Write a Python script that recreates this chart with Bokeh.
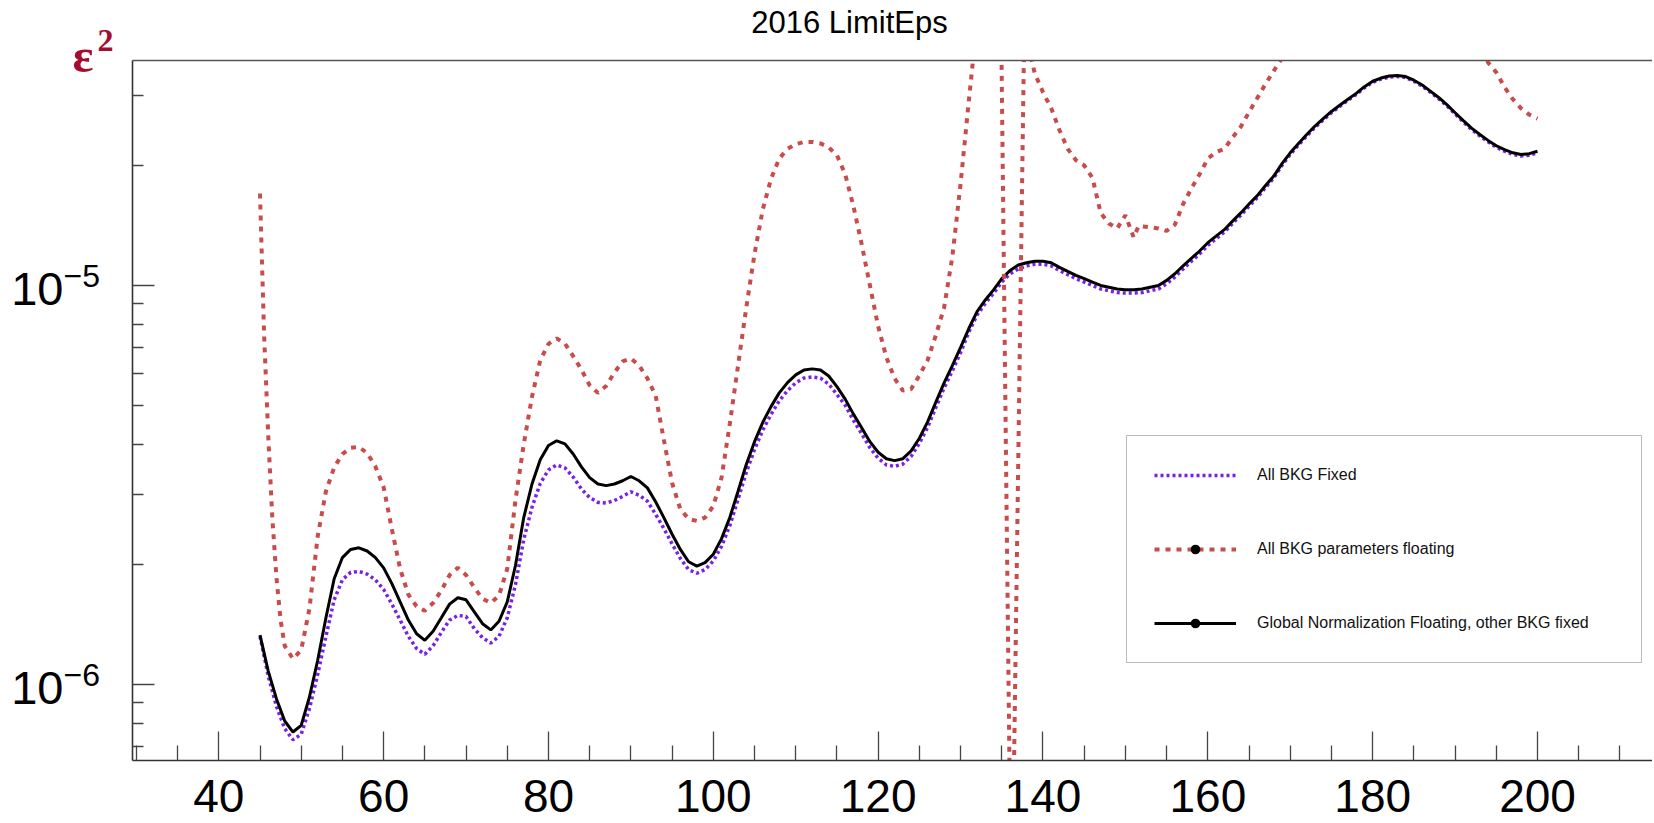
from bokeh.plotting import figure
from bokeh.models import (Label, Legend, LegendItem, FixedTicker, LinearAxis, LogAxis,
                          ColumnDataSource, Range1d)
from bokeh.embed import file_html
from bokeh.resources import INLINE

# ---------------- data ----------------
mass = list(range(45, 201))

global_norm = [
    1.33e-6, 1.08e-6, 9.2e-7, 8.1e-7, 7.6e-7, 7.9e-7, 9.3e-7, 1.15e-6, 1.47e-6, 1.84e-6,   # 45-54
    2.08e-6, 2.18e-6, 2.20e-6, 2.16e-6, 2.08e-6, 1.96e-6, 1.79e-6, 1.61e-6, 1.45e-6, 1.34e-6,  # 55-64
    1.29e-6, 1.36e-6, 1.47e-6, 1.59e-6, 1.65e-6, 1.63e-6, 1.52e-6, 1.42e-6, 1.37e-6, 1.44e-6,  # 65-74
    1.61e-6, 1.99e-6, 2.62e-6, 3.18e-6, 3.66e-6, 3.97e-6, 4.08e-6, 4.01e-6, 3.78e-6, 3.51e-6,  # 75-84
    3.30e-6, 3.18e-6, 3.15e-6, 3.18e-6, 3.24e-6, 3.32e-6, 3.24e-6, 3.11e-6, 2.87e-6, 2.62e-6,  # 85-94
    2.38e-6, 2.18e-6, 2.03e-6, 1.98e-6, 2.02e-6, 2.12e-6, 2.32e-6, 2.62e-6, 3.05e-6, 3.56e-6,  # 95-104
    4.06e-6, 4.54e-6, 4.97e-6, 5.38e-6, 5.71e-6, 5.97e-6, 6.14e-6, 6.18e-6, 6.14e-6, 5.93e-6,  # 105-114
    5.58e-6, 5.19e-6, 4.76e-6, 4.40e-6, 4.06e-6, 3.82e-6, 3.68e-6, 3.64e-6, 3.68e-6, 3.85e-6,  # 115-124
    4.14e-6, 4.55e-6, 5.10e-6, 5.70e-6, 6.30e-6, 7.00e-6, 7.80e-6, 8.60e-6, 9.20e-6, 9.75e-6,  # 125-134
    1.04e-5, 1.09e-5, 1.125e-5, 1.14e-5, 1.15e-5, 1.15e-5, 1.14e-5, 1.11e-5, 1.085e-5, 1.06e-5,  # 135-144
    1.04e-5, 1.02e-5, 1.00e-5, 9.9e-6, 9.8e-6, 9.76e-6, 9.76e-6, 9.8e-6, 9.9e-6, 1.00e-5,  # 145-154
    1.03e-5, 1.07e-5, 1.12e-5, 1.17e-5, 1.22e-5, 1.28e-5, 1.33e-5, 1.38e-5, 1.45e-5, 1.52e-5,  # 155-164
    1.60e-5, 1.68e-5, 1.78e-5, 1.88e-5, 2.02e-5, 2.15e-5, 2.27e-5, 2.39e-5, 2.51e-5, 2.62e-5,  # 165-174
    2.73e-5, 2.83e-5, 2.93e-5, 3.03e-5, 3.15e-5, 3.25e-5, 3.31e-5, 3.35e-5, 3.36e-5, 3.34e-5,  # 175-184
    3.27e-5, 3.18e-5, 3.07e-5, 2.96e-5, 2.84e-5, 2.71e-5, 2.59e-5, 2.48e-5, 2.39e-5, 2.31e-5,  # 185-194
    2.24e-5, 2.19e-5, 2.15e-5, 2.13e-5, 2.14e-5, 2.17e-5,                                        # 195-200
]

all_fixed = [
    1.32e-6, 1.05e-6, 8.8e-7, 7.75e-7, 7.27e-7, 7.5e-7, 8.7e-7, 1.06e-6, 1.32e-6, 1.63e-6,   # 45-54
    1.83e-6, 1.91e-6, 1.92e-6, 1.89e-6, 1.83e-6, 1.73e-6, 1.59e-6, 1.45e-6, 1.32e-6, 1.23e-6,  # 55-64
    1.19e-6, 1.25e-6, 1.35e-6, 1.45e-6, 1.49e-6, 1.48e-6, 1.38e-6, 1.31e-6, 1.27e-6, 1.32e-6,  # 65-74
    1.47e-6, 1.78e-6, 2.31e-6, 2.78e-6, 3.19e-6, 3.45e-6, 3.55e-6, 3.49e-6, 3.31e-6, 3.09e-6,  # 75-84
    2.94e-6, 2.86e-6, 2.85e-6, 2.89e-6, 2.96e-6, 3.04e-6, 2.98e-6, 2.88e-6, 2.67e-6, 2.46e-6,  # 85-94
    2.25e-6, 2.07e-6, 1.94e-6, 1.90e-6, 1.94e-6, 2.04e-6, 2.22e-6, 2.50e-6, 2.91e-6, 3.40e-6,  # 95-104
    3.88e-6, 4.34e-6, 4.75e-6, 5.14e-6, 5.45e-6, 5.70e-6, 5.86e-6, 5.90e-6, 5.86e-6, 5.66e-6,  # 105-114
    5.33e-6, 5.01e-6, 4.59e-6, 4.25e-6, 3.92e-6, 3.69e-6, 3.55e-6, 3.52e-6, 3.57e-6, 3.73e-6,  # 115-124
    4.02e-6, 4.41e-6, 4.95e-6, 5.53e-6, 6.11e-6, 6.79e-6, 7.64e-6, 8.43e-6, 9.02e-6, 9.56e-6,  # 125-134
    1.02e-5, 1.07e-5, 1.10e-5, 1.12e-5, 1.13e-5, 1.13e-5, 1.12e-5, 1.09e-5, 1.065e-5, 1.04e-5,  # 135-144
    1.02e-5, 1.00e-5, 9.8e-6, 9.7e-6, 9.6e-6, 9.57e-6, 9.57e-6, 9.6e-6, 9.7e-6, 9.8e-6,  # 145-154
    1.01e-5, 1.05e-5, 1.10e-5, 1.15e-5, 1.20e-5, 1.26e-5, 1.31e-5, 1.36e-5, 1.43e-5, 1.50e-5,  # 155-164
    1.58e-5, 1.66e-5, 1.76e-5, 1.86e-5, 2.00e-5, 2.13e-5, 2.25e-5, 2.37e-5, 2.49e-5, 2.60e-5,  # 165-174
    2.71e-5, 2.81e-5, 2.91e-5, 3.01e-5, 3.13e-5, 3.23e-5, 3.29e-5, 3.33e-5, 3.34e-5, 3.32e-5,  # 175-184
    3.25e-5, 3.16e-5, 3.05e-5, 2.94e-5, 2.82e-5, 2.69e-5, 2.57e-5, 2.46e-5, 2.37e-5, 2.29e-5,  # 185-194
    2.22e-5, 2.17e-5, 2.13e-5, 2.11e-5, 2.12e-5, 2.15e-5,                                        # 195-200
]

float_mass = [
    45, 45.5, 46, 46.5, 47, 47.5, 48, 49, 50, 51, 52, 53, 54, 55, 56, 57, 58, 59, 60,
    61, 62, 63, 64, 65, 66, 67, 68, 69, 70, 71, 72, 73, 74, 75, 76, 77, 78, 79, 80,
    81, 82, 83, 84, 85, 86, 87, 88, 89, 90, 91, 92, 93, 94, 95, 96, 97, 98, 99, 100,
    101, 102, 103, 104, 105, 106, 107, 108, 109, 110, 111, 112, 113, 114, 115, 116,
    117, 118, 119, 120, 121, 122, 123, 124, 125, 126, 127, 128, 129, 130, 131, 132,
    133, 134, 134.9, 136.0, 136.4, 137.7, 138.2, 139, 140, 141, 142, 143, 144, 145, 146, 147,
    148, 149, 150, 151, 151.6, 153, 154, 155, 156, 157, 158, 159, 160, 161, 162, 163,
    164, 165, 166, 167, 168, 169, 170, 172, 175, 180, 185, 190, 193, 194, 195, 196,
    197, 198, 199, 200,
]
all_floating = [
    1.70e-5, 7.5e-6, 4.2e-6, 2.6e-6, 1.85e-6, 1.45e-6, 1.25e-6, 1.16e-6, 1.22e-6, 1.55e-6,
    2.35e-6, 3.05e-6, 3.50e-6, 3.78e-6, 3.92e-6, 3.94e-6, 3.80e-6, 3.52e-6, 3.12e-6,
    2.45e-6, 1.95e-6, 1.68e-6, 1.57e-6, 1.53e-6, 1.60e-6, 1.72e-6, 1.88e-6, 1.96e-6, 1.88e-6,
    1.75e-6, 1.64e-6, 1.60e-6, 1.67e-6, 1.95e-6, 2.90e-6, 4.00e-6, 5.26e-6, 6.49e-6, 7.14e-6,
    7.37e-6, 7.15e-6, 6.65e-6, 6.15e-6, 5.62e-6, 5.38e-6, 5.60e-6, 6.05e-6, 6.45e-6, 6.56e-6,
    6.30e-6, 5.85e-6, 5.30e-6, 4.10e-6, 3.20e-6, 2.75e-6, 2.60e-6, 2.57e-6, 2.62e-6, 2.80e-6,
    3.30e-6, 4.50e-6, 6.30e-6, 8.80e-6, 1.20e-5, 1.55e-5, 1.85e-5, 2.08e-5, 2.20e-5, 2.26e-5,
    2.29e-5, 2.29e-5, 2.27e-5, 2.22e-5, 2.12e-5, 1.90e-5,
    1.58e-5, 1.27e-5, 1.00e-5, 7.90e-6, 6.60e-6, 5.85e-6, 5.45e-6, 5.50e-6, 5.95e-6, 6.50e-6,
    7.50e-6, 8.80e-6, 1.18e-5, 1.80e-5, 2.90e-5, 4.60e-5,
    4.80e-5, 4.90e-5, 4.95e-5, 4.7e-7, 4.7e-7, 4.0e-5, 4.0e-5, 3.40e-5, 3.05e-5, 2.78e-5,
    2.45e-5, 2.20e-5, 2.06e-5, 2.00e-5, 1.86e-5, 1.52e-5,
    1.43e-5, 1.39e-5, 1.50e-5, 1.32e-5, 1.41e-5, 1.40e-5, 1.39e-5, 1.37e-5, 1.42e-5, 1.60e-5,
    1.75e-5, 1.90e-5, 2.08e-5, 2.16e-5, 2.20e-5, 2.35e-5,
    2.50e-5, 2.72e-5, 2.95e-5, 3.20e-5, 3.45e-5, 3.72e-5, 4.0e-5, 4.5e-5, 4.8e-5, 4.9e-5,
    4.9e-5, 4.7e-5, 4.1e-5, 3.62e-5, 3.42e-5, 3.14e-5,
    2.93e-5, 2.78e-5, 2.68e-5, 2.62e-5,
]

x_major = [40, 60, 80, 100, 120, 140, 160, 180, 200]
x_minor = [30, 35, 45, 50, 55, 65, 70, 75, 85, 90, 95, 105, 110, 115, 125, 130, 135,
           145, 150, 155, 165, 170, 175, 185, 190, 195, 205, 210]
y_major = [1e-6, 1e-5]
y_exponents = ["\u22126", "\u22125"]
y_minor = [7e-7, 8e-7, 9e-7, 2e-6, 3e-6, 4e-6, 5e-6, 6e-6, 7e-6, 8e-6, 9e-6, 2e-5, 3e-5]

labels = ["All BKG Fixed", "All BKG parameters floating",
          "Global Normalization Floating, other BKG fixed"]

# ---------------- layout constants ----------------
W, H = 1652, 820
X_LEFT, X_RIGHT = 29.53, 213.95          # axis frame (ROOT pad) extent in x
Y_BOTTOM, Y_TOP = 6.449e-7, 3.664e-5     # axis frame extent in y
CANVAS_X = (13.515, 213.95)              # data range that spans the whole canvas
CANVAS_Y = (4.561e-7, 5.179e-5)

FONT = "Liberation Sans"
p = figure(width=W, height=H, output_backend="svg", toolbar_location=None,
           x_range=Range1d(*CANVAS_X), y_range=Range1d(*CANVAS_Y), y_axis_type="log",
           x_axis_location=None, y_axis_location=None, min_border=0)
p.outline_line_color = None
p.xgrid.visible = False
p.ygrid.visible = False
p.background_fill_color = "white"
p.border_fill_color = "white"


def style_axis(ax, tick_in, minor_in, color="#333333"):
    ax.major_label_text_font_size = "1px"
    ax.major_label_text_color = None
    ax.major_label_standoff = 0
    ax.axis_line_color = color
    ax.axis_line_width = 1.6
    ax.major_tick_line_color = "#444444"
    ax.minor_tick_line_color = "#444444"
    ax.major_tick_line_width = 1.3
    ax.minor_tick_line_width = 1.3
    ax.major_tick_out = 0
    ax.minor_tick_out = 0
    ax.major_tick_in = tick_in
    ax.minor_tick_in = minor_in


xaxis = LinearAxis(ticker=FixedTicker(ticks=x_major, minor_ticks=x_minor),
                   fixed_location=Y_BOTTOM, bounds=(X_LEFT, X_RIGHT))
style_axis(xaxis, 29, 15)
p.add_layout(xaxis, "below")

yaxis = LogAxis(ticker=FixedTicker(ticks=y_major, minor_ticks=y_minor),
                fixed_location=X_LEFT, bounds=(Y_BOTTOM, Y_TOP))
style_axis(yaxis, 22, 11)
p.add_layout(yaxis, "left")

top_axis = LinearAxis(ticker=FixedTicker(ticks=[]), fixed_location=Y_TOP,
                      bounds=(X_LEFT, X_RIGHT))
style_axis(top_axis, 0, 0, color="#555555")
top_axis.major_tick_line_color = None
top_axis.minor_tick_line_color = None
p.add_layout(top_axis, "above")

# ---------------- curves ----------------
src_fixed = ColumnDataSource(dict(x=mass, y=all_fixed))
src_glob = ColumnDataSource(dict(x=mass, y=global_norm))
src_float = ColumnDataSource(dict(x=float_mass, y=all_floating))

r_fixed = p.line("x", "y", source=src_fixed, line_color="#7a1fe4", line_width=3.5,
                 line_dash="3 3")
r_glob = p.line("x", "y", source=src_glob, line_color="black", line_width=3)
r_glob_pts = p.scatter("x", "y", source=src_glob, size=0, fill_color="black",
                       line_color=None)
r_float = p.line("x", "y", source=src_float, line_color="#c94c4c", line_width=4,
                 line_dash="5 6")
r_float_pts = p.scatter("x", "y", source=src_float, size=0, fill_color="black",
                        line_color=None)

# white masks above / below the pad frame: curves are clipped at the frame (like ROOT)
p.quad(left=[CANVAS_X[0] - 10] * 2, right=[CANVAS_X[1] + 10] * 2,
       bottom=[Y_TOP, CANVAS_Y[0] / 100], top=[CANVAS_Y[1] * 100, Y_BOTTOM],
       fill_color="white", fill_alpha=1.0, line_color=None)

legend = Legend(items=[
    LegendItem(label=labels[0], renderers=[r_fixed]),
    LegendItem(label=labels[1], renderers=[r_float, r_float_pts]),
    LegendItem(label=labels[2], renderers=[r_glob, r_glob_pts]),
], location=(1126, 157), glyph_width=82, glyph_height=24, label_height=24, spacing=50,
   padding=27, label_standoff=21, label_width=357, margin=0,
   label_text_font=FONT, label_text_font_size="16px", label_text_color="#111111",
   border_line_color="#777777", border_line_width=1.5, background_fill_alpha=1.0)
p.add_layout(legend)

# ---------------- texts ----------------
for t in x_major:
    p.add_layout(Label(x=t, y=25, x_units="data", y_units="screen", text=str(t),
                       text_align="center", text_baseline="alphabetic",
                       text_font=FONT, text_font_size="46px", text_color="black"))

for t, e in zip(y_major, y_exponents):
    p.add_layout(Label(x=63, y=t, x_units="screen", y_units="data", text="10",
                       y_offset=-4, text_align="right", text_baseline="alphabetic",
                       text_font=FONT, text_font_size="47px", text_color="black"))
    p.add_layout(Label(x=63, y=t, x_units="screen", y_units="data", text=e,
                       y_offset=9, text_align="left", text_baseline="alphabetic",
                       text_font=FONT, text_font_size="32px", text_color="black"))

p.add_layout(Label(x=849, y=798, x_units="screen", y_units="screen",
                   text="2016 LimitEps", text_align="center", text_baseline="alphabetic",
                   text_font=FONT, text_font_size="31px", text_color="black"))

p.add_layout(Label(x=72, y=765, x_units="screen", y_units="screen", text="\u03b5",
                   text_align="left", text_baseline="alphabetic",
                   text_font="Liberation Serif", text_font_style="bold",
                   text_font_size="49px", text_color="#a50d2f"))
p.add_layout(Label(x=97, y=780, x_units="screen", y_units="screen", text="2",
                   text_align="left", text_baseline="alphabetic",
                   text_font="Liberation Serif", text_font_style="bold",
                   text_font_size="32px", text_color="#a50d2f"))

open("out.html", "w").write(file_html(p, INLINE, title="2016 LimitEps"))
